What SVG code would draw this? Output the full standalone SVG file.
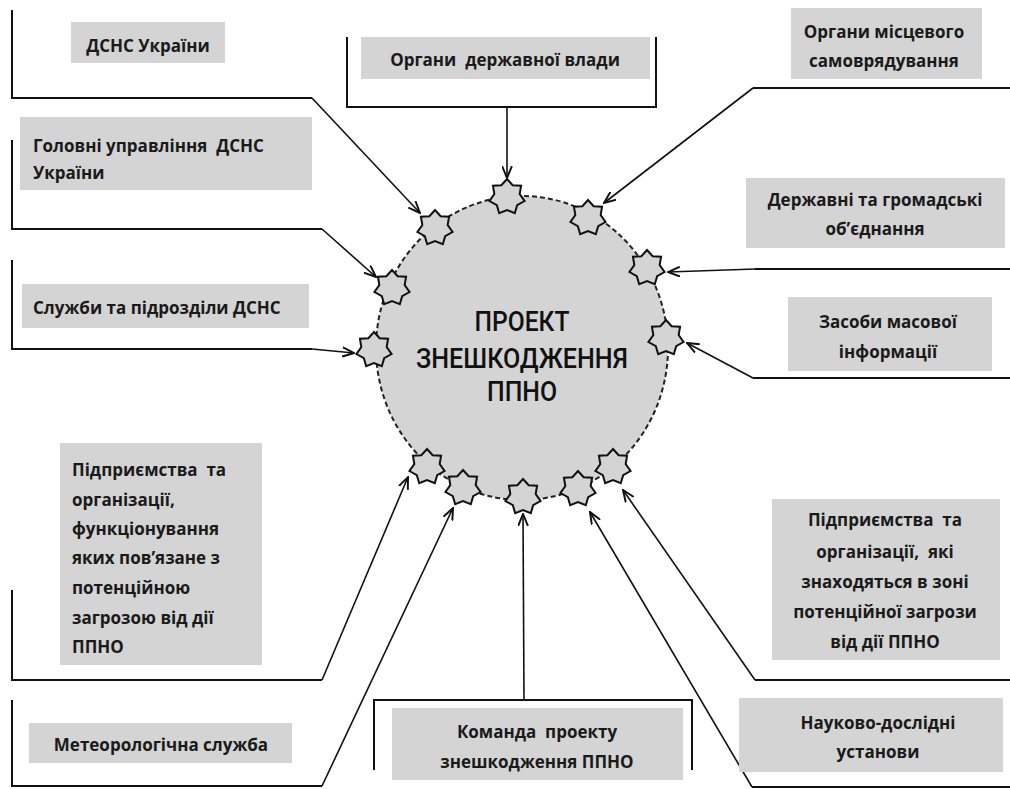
<svg xmlns="http://www.w3.org/2000/svg" xmlns:xlink="http://www.w3.org/1999/xlink" width="1010" height="789" viewBox="0 0 1010 789">
<style>
.box{fill:#d4d4d4;stroke:none}
.t{font-family:"Open Sans",Lato,"Liberation Sans",sans-serif;font-weight:bold;font-size:17px;fill:#1a1a1a;white-space:pre}
.c{text-anchor:middle}
.ln{fill:none;stroke:#111;stroke-width:2;stroke-linejoin:miter}
.ar{fill:none;stroke:#111;stroke-width:1.6;marker-end:url(#arr)}
.star{fill:#d4d4d4;stroke:#111;stroke-width:2;stroke-linejoin:miter}
.main{font-family:Roboto,"Liberation Sans",sans-serif;font-weight:500;font-size:28px;fill:#111;text-anchor:middle}
</style>
<defs>
<marker id="arr" viewBox="0 0 12 10" refX="11" refY="5" markerWidth="13" markerHeight="11" markerUnits="userSpaceOnUse" orient="auto">
<path d="M0,0.5 L11,5 L0,9.5" fill="none" stroke="#111" stroke-width="1.8"/>
</marker>
<path id="star" d="M0,-18 L5.64,-11.71 L14.07,-11.22 L12.67,-2.89 L17.55,4 L10.16,8.11 L7.81,16.22 L0,13 L-7.81,16.22 L-10.16,8.11 L-17.55,4 L-12.67,-2.89 L-14.07,-11.22 L-5.64,-11.71 Z"/>
</defs>
<rect width="1010" height="789" fill="#fff"/>

<g id="connectors">
<polyline class="ln" points="12,10 12,98 312,98"/><polyline class="ar" points="312,98 420,213"/>
<polyline class="ln" points="12,140 12,229 322,229"/><polyline class="ar" points="322,229 376,277"/>
<polyline class="ln" points="12,260 12,349 312,349"/><polyline class="ar" points="312,349 354,353"/>
<path class="ln" d="M347,37 V107 H656 V37"/><polyline class="ar" points="507,107 507,178"/>
<polyline class="ln" points="1010,88 753,88"/><polyline class="ar" points="753,88 604,203"/>
<polyline class="ln" points="1010,269 755,269"/><polyline class="ar" points="755,269 668,272"/>
<polyline class="ln" points="1010,378 753,378"/><polyline class="ar" points="753,378 687,343"/>
<polyline class="ln" points="12,590 12,680 322,680"/><polyline class="ar" points="322,680 408,477"/>
<polyline class="ln" points="12,700 12,786 322,786"/><polyline class="ar" points="322,786 453,508"/>
<path class="ln" d="M374,770 V700 H692 V770"/><polyline class="ar" points="524,700 523,514"/>
<polyline class="ln" points="1010,680 755,680"/><polyline class="ar" points="755,680 623,490"/>
<polyline class="ln" points="1010,787 752,787"/><polyline class="ar" points="752,787 590,512"/>
</g>

<g id="center">
<ellipse cx="522" cy="348" rx="146" ry="152" fill="#d4d4d4" stroke="#222" stroke-width="2" stroke-dasharray="5 3"/>
<use xlink:href="#star" class="star" x="507" y="197"/>
<use xlink:href="#star" class="star" x="588" y="218"/>
<use xlink:href="#star" class="star" x="647" y="268"/>
<use xlink:href="#star" class="star" x="666" y="338"/>
<use xlink:href="#star" class="star" x="435" y="228"/>
<use xlink:href="#star" class="star" x="392" y="288"/>
<use xlink:href="#star" class="star" x="374" y="350"/>
<use xlink:href="#star" class="star" x="427" y="467"/>
<use xlink:href="#star" class="star" x="463" y="488"/>
<use xlink:href="#star" class="star" x="523" y="497"/>
<use xlink:href="#star" class="star" x="578" y="489"/>
<use xlink:href="#star" class="star" x="613" y="467"/>
<text class="main" x="522" y="331" textLength="95" lengthAdjust="spacingAndGlyphs">ПРОЕКТ</text>
<text class="main" x="522" y="368" textLength="212" lengthAdjust="spacingAndGlyphs">ЗНЕШКОДЖЕННЯ</text>
<text class="main" x="522" y="401" textLength="70" lengthAdjust="spacingAndGlyphs">ППНО</text>
</g>

<g id="n-dsns">
<rect class="box" x="71" y="22" width="154" height="41"/>
<text class="t c" x="148" y="52">ДСНС України</text>
</g>
<g id="n-golovni">
<rect class="box" x="20" y="117" width="292" height="73"/>
<text class="t" x="33" y="152">Головні управління  ДСНС</text>
<text class="t" x="33" y="179">України</text>
</g>
<g id="n-sluzhby">
<rect class="box" x="22" y="284" width="287" height="44"/>
<text class="t" x="33" y="314">Служби та підрозділи ДСНС</text>
</g>
<g id="n-derzh-vlada">
<rect class="box" x="361" y="37" width="289" height="42"/>
<text class="t c" x="505" y="66">Органи  державної влади</text>
</g>
<g id="n-mistseve">
<rect class="box" x="791" y="8" width="191" height="71"/>
<text class="t c" x="884" y="38">Органи місцевого</text>
<text class="t c" x="884" y="67">самоврядування</text>
</g>
<g id="n-obiednannia">
<rect class="box" x="746" y="178" width="259" height="70"/>
<text class="t c" x="875" y="206">Державні та громадські</text>
<text class="t c" x="875" y="235">об’єднання</text>
</g>
<g id="n-zmi">
<rect class="box" x="788" y="297" width="204" height="74"/>
<text class="t c" x="888" y="328">Засоби масової</text>
<text class="t c" x="888" y="358">інформації</text>
</g>
<g id="n-pidpr-left">
<rect class="box" x="60" y="443" width="202" height="222"/>
<text class="t" x="72" y="476">Підприємства  та</text>
<text class="t" x="72" y="506">організації,</text>
<text class="t" x="72" y="535">функціонування</text>
<text class="t" x="72" y="564">яких пов’язане з</text>
<text class="t" x="72" y="594">потенційною</text>
<text class="t" x="72" y="624">загрозою від дії</text>
<text class="t" x="72" y="653">ППНО</text>
</g>
<g id="n-meteo">
<rect class="box" x="29" y="723" width="263" height="40"/>
<text class="t c" x="161" y="751">Метеорологічна служба</text>
</g>
<g id="n-komanda">
<rect class="box" x="392" y="708" width="291" height="72"/>
<text class="t c" x="537" y="738">Команда  проекту</text>
<text class="t c" x="537" y="768">знешкодження ППНО</text>
</g>
<g id="n-pidpr-right">
<rect class="box" x="772" y="499" width="228" height="161"/>
<text class="t c" x="885" y="526">Підприємства  та</text>
<text class="t c" x="885" y="558">організації,  які</text>
<text class="t c" x="885" y="588">знаходяться в зоні</text>
<text class="t c" x="885" y="618">потенційної загрози</text>
<text class="t c" x="885" y="648">від дії ППНО</text>
</g>
<g id="n-naukovi">
<rect class="box" x="739" y="698" width="264" height="74"/>
<text class="t c" x="878" y="729">Науково-дослідні</text>
<text class="t c" x="878" y="758">установи</text>
</g>
</svg>
